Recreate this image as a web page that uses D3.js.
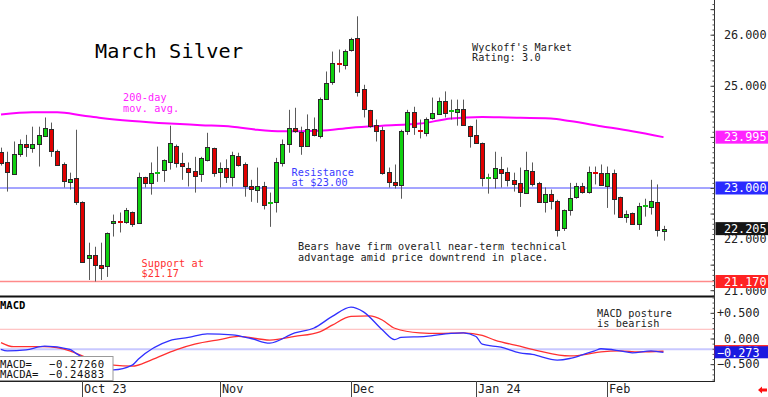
<!DOCTYPE html>
<html>
<head>
<meta charset="utf-8">
<title>March Silver</title>
<script src="https://cdn.jsdelivr.net/npm/d3@7"></script>
<style>
    html, body { margin: 0; padding: 0; background: #ffffff; overflow: hidden; }
    svg { display: block; }
    text { font-family: "DejaVu Sans Mono", monospace; }
</style>
</head>
<body>
<script>
"use strict";

// daily candles, index = trading day (mid Sep 2023 .. mid Feb 2024)
const opens  = [23.71, 23.50, 23.28, 23.67, 23.87, 23.80, 23.85, 24.03, 24.16, 23.73,
                23.46, 23.12, 23.20, 22.73, 21.62, 21.69, 21.50, 21.46, 22.32, 22.36,
                22.32, 22.54, 22.32, 23.22, 23.10, 23.30, 23.34, 23.52, 23.83, 23.48,
                23.40, 23.34, 23.28, 23.56, 23.79, 23.32, 23.40, 23.22, 23.63, 23.46,
                23.03, 22.95, 23.03, 22.70, 22.71, 23.50, 23.87, 24.18, 24.10, 23.83,
                24.16, 24.03, 24.75, 25.06, 25.45, 25.42, 25.69, 25.94, 24.93, 24.53,
                24.24, 24.14, 23.32, 23.12, 23.07, 24.10, 24.48, 24.14, 24.08, 24.36,
                24.46, 24.71, 24.50, 24.50, 24.55, 24.22, 24.04, 23.89, 23.19, 23.20,
                23.38, 23.32, 23.16, 23.09, 22.91, 23.34, 23.10, 22.73, 22.89, 22.75,
                22.20, 22.58, 22.81, 23.03, 22.93, 23.32, 23.30, 23.05, 23.30, 22.83,
                22.44, 22.52, 22.30, 22.65, 22.63, 22.73, 22.16];
const highs  = [23.79, 23.71, 23.91, 23.95, 24.04, 24.20, 24.20, 24.38, 24.28, 23.75,
                23.50, 23.30, 24.14, 22.74, 21.93, 21.85, 21.93, 22.13, 22.48, 22.52,
                22.61, 22.54, 23.30, 23.22, 23.50, 23.81, 23.56, 24.22, 23.85, 23.69,
                23.50, 23.61, 23.61, 24.08, 23.79, 23.50, 23.56, 23.71, 23.69, 23.50,
                23.16, 23.40, 23.12, 22.91, 23.59, 23.95, 24.53, 24.57, 24.20, 24.44,
                24.38, 24.77, 25.28, 25.67, 25.71, 25.71, 25.94, 26.36, 25.02, 24.53,
                24.34, 24.20, 23.40, 23.46, 24.14, 24.53, 24.59, 24.34, 24.38, 24.77,
                24.77, 24.89, 24.73, 24.73, 24.73, 24.22, 24.34, 23.89, 23.28, 23.71,
                23.61, 23.40, 23.30, 23.40, 23.71, 23.50, 23.12, 23.01, 22.97, 22.77,
                22.58, 23.10, 23.10, 23.10, 23.42, 23.42, 23.46, 23.42, 23.36, 22.83,
                22.56, 22.52, 22.71, 22.79, 23.16, 23.07, 22.26];
const lows   = [23.44, 22.93, 23.26, 23.61, 23.61, 23.69, 23.42, 24.01, 23.61, 23.44,
                23.01, 22.97, 22.67, 21.54, 21.20, 21.17, 21.20, 21.26, 22.05, 22.13,
                22.30, 22.24, 22.32, 23.01, 22.87, 23.12, 23.12, 23.36, 23.40, 23.16,
                23.03, 22.91, 23.12, 23.52, 23.22, 23.01, 23.10, 23.03, 23.42, 22.83,
                22.73, 22.71, 22.58, 22.24, 22.52, 23.42, 23.69, 24.08, 23.65, 23.81,
                24.01, 23.97, 24.73, 25.02, 25.26, 25.32, 25.67, 24.79, 24.38, 24.18,
                23.91, 23.26, 23.01, 22.99, 22.79, 24.04, 24.04, 23.97, 24.01, 24.34,
                24.44, 24.38, 24.34, 24.22, 24.22, 23.79, 23.89, 23.03, 22.89, 22.99,
                23.01, 23.03, 22.93, 22.63, 22.91, 23.03, 22.71, 22.52, 22.58, 22.05,
                22.16, 22.46, 22.79, 22.89, 22.89, 23.07, 23.05, 22.61, 22.48, 22.44,
                22.32, 22.28, 22.18, 22.44, 22.48, 22.05, 21.97];
const closes = [23.50, 23.30, 23.67, 23.87, 23.81, 23.87, 24.03, 24.18, 23.73, 23.46,
                23.12, 23.18, 22.73, 21.56, 21.68, 21.50, 21.44, 22.11, 22.36, 22.34,
                22.56, 22.30, 23.22, 23.10, 23.30, 23.32, 23.54, 23.89, 23.50, 23.42,
                23.32, 23.24, 23.59, 23.81, 23.30, 23.40, 23.22, 23.65, 23.46, 23.03,
                22.97, 23.03, 22.65, 22.72, 23.50, 23.87, 24.18, 24.12, 23.83, 24.16,
                24.04, 24.75, 25.06, 25.44, 25.43, 25.69, 25.91, 24.89, 24.53, 24.22,
                24.12, 23.30, 23.12, 23.07, 24.12, 24.48, 24.18, 24.12, 24.36, 24.46,
                24.71, 24.48, 24.52, 24.55, 24.24, 24.03, 23.89, 23.20, 23.21, 23.40,
                23.30, 23.16, 23.09, 22.91, 23.36, 23.09, 22.73, 22.89, 22.75, 22.18,
                22.56, 22.81, 23.03, 22.91, 23.32, 23.30, 23.07, 23.30, 22.79, 22.44,
                22.50, 22.30, 22.65, 22.67, 22.75, 22.18, 22.205];

// 200-day moving average, read at a few trading days
const maIdx  = [0, 5, 9, 13, 16, 21, 27, 32, 37, 41, 45, 51, 56, 61, 67, 72, 77, 81, 88, 91, 96, 101, 106];
const maVals = [24.44, 24.48, 24.48, 24.42, 24.37, 24.31, 24.26, 24.23, 24.20, 24.14, 24.11, 24.12,
                24.18, 24.22, 24.26, 24.36, 24.39, 24.38, 24.36, 24.31, 24.21, 24.11, 23.995];

// MACD (blue) and its average MACDA (red)
const macdIdx  = [0, 1, 4, 7, 11, 12, 14, 16, 18, 21, 22, 27, 30, 33, 37, 40, 43, 47, 50, 53, 56,
                  58, 61, 63, 64, 68, 72, 74, 76, 77, 80, 83, 85, 89, 91, 93, 95, 96, 99, 101, 104, 106];
const macdVals = [-0.21, -0.24, -0.22, -0.15, -0.21, -0.29, -0.44, -0.61, -0.61, -0.52, -0.40,
                  -0.04, 0.02, 0.09, 0.07, 0.00, -0.09, 0.11, 0.20, 0.43, 0.61, 0.52, 0.17, -0.02,
                  0.02, 0.04, 0.10, 0.11, 0.04, -0.11, -0.17, -0.28, -0.31, -0.42, -0.39, -0.32,
                  -0.24, -0.20, -0.24, -0.28, -0.24, -0.2726];
const sigIdx   = [0, 2, 7, 11, 14, 18, 21, 24, 28, 31, 35, 38, 43, 47, 51, 53, 56, 59, 61, 63, 67,
                  70, 74, 77, 79, 83, 86, 91, 93, 96, 99, 102, 106];
const sigVals  = [-0.08, -0.16, -0.16, -0.24, -0.39, -0.52, -0.54, -0.42, -0.22, -0.11, -0.02,
                  0.04, -0.03, 0.04, 0.13, 0.26, 0.43, 0.44, 0.36, 0.20, 0.11, 0.10, 0.11, 0.06,
                  -0.03, -0.15, -0.24, -0.34, -0.32, -0.26, -0.24, -0.26, -0.24883];

const monthIdx    = [13, 35, 56, 76, 97];
const monthLabels = ["Oct 23", "Nov", "Dec", "Jan 24", "Feb"];

const priceTicks = [21, 22, 23, 24, 25, 26];
const macdTicks  = [-0.5, 0, 0.5];

const resistance = 23.00;
const support    = 21.17;
const macdHigh   = 0.18;
const macdLow    = -0.21;

(function() {
    const svgSize = { width: 768, height: 397 };
    const axisX = 714;
    const priceBottom = 296;
    const macdBottom = 381;

    window.addEventListener("load", init);

    function addLines(g, x, y, lines, color, size, spacing) {
        g.append("text")
            .attr("x", x)
            .attr("y", y)
            .attr("fill", color)
            .attr("font-size", size)
            .attr("letter-spacing", spacing)
            .selectAll("tspan")
            .data(lines)
            .enter()
            .append("tspan")
                .attr("x", x)
                .attr("dy", (d, i) => i === 0 ? 0 : 10.6)
                .text(d => d);
    }

    function init() {
        const svg = d3.select("body").append("svg")
            .attr("width", svgSize.width)
            .attr("height", svgSize.height);

        const x = d3.scaleLinear().domain([0, 106]).range([1, 663.5]);
        const yPrice = d3.scaleLinear().domain([21, 26]).range([290.2, 34.7]);
        const yMacd = d3.scaleLinear().domain([-0.5, 0.5]).range([364.15, 312.85]);
        const px = i => Math.round(x(i));

        svg.append("clipPath").attr("id", "priceClip")
            .append("rect").attr("x", 0).attr("y", 0).attr("width", axisX).attr("height", priceBottom);
        svg.append("clipPath").attr("id", "macdClip")
            .append("rect").attr("x", 0).attr("y", priceBottom + 1).attr("width", axisX).attr("height", macdBottom - priceBottom - 1);

        // ---- price panel ----
        const price = svg.append("g").attr("clip-path", "url(#priceClip)");

        price.append("line")
            .attr("x1", 0).attr("x2", axisX)
            .attr("y1", yPrice(resistance)).attr("y2", yPrice(resistance))
            .attr("stroke", "#4a4aff").attr("stroke-width", 1);
        price.append("line")
            .attr("x1", 0).attr("x2", axisX)
            .attr("y1", yPrice(support)).attr("y2", yPrice(support))
            .attr("stroke", "#ff8a8a").attr("stroke-width", 1.4);

        const ma = d3.zip(maIdx, maVals);
        price.append("path")
            .datum(ma)
            .attr("fill", "none")
            .attr("stroke", "#ff00ff")
            .attr("stroke-width", 2)
            .attr("d", d3.line().x(d => x(d[0])).y(d => yPrice(d[1])).curve(d3.curveMonotoneX));

        const candles = d3.range(opens.length).map(i => ({ i: i, o: opens[i], h: highs[i], l: lows[i], c: closes[i] }));

        price.selectAll(".wick")
            .data(candles)
            .enter()
            .append("line")
                .attr("class", "wick")
                .attr("x1", d => px(d.i) + 0.5)
                .attr("x2", d => px(d.i) + 0.5)
                .attr("y1", d => yPrice(d.h))
                .attr("y2", d => yPrice(d.l))
                .attr("stroke", "#5a5a5a")
                .attr("stroke-width", 1);

        price.selectAll(".body")
            .data(candles)
            .enter()
            .append("rect")
                .attr("class", "body")
                .attr("x", d => px(d.i) - 1.5)
                .attr("width", 4)
                .attr("y", d => Math.round(yPrice(Math.max(d.o, d.c))) + 0.5)
                .attr("height", d => Math.max(1, Math.round(Math.abs(yPrice(d.o) - yPrice(d.c)))))
                .attr("fill", d => d.c >= d.o ? "#10d010" : "#e00000")
                .attr("stroke", d => {
                    const tiny = Math.abs(yPrice(d.o) - yPrice(d.c)) < 2;
                    if (tiny) return d.c >= d.o ? "#10c010" : "#e00000";
                    return "#2a2a2a";
                })
                .attr("stroke-width", 1);

        // ---- macd panel ----
        const macd = svg.append("g").attr("clip-path", "url(#macdClip)");

        macd.append("line")
            .attr("x1", 0).attr("x2", axisX)
            .attr("y1", yMacd(macdHigh)).attr("y2", yMacd(macdHigh))
            .attr("stroke", "#ffb4b4").attr("stroke-width", 1);
        macd.append("line")
            .attr("x1", 0).attr("x2", axisX)
            .attr("y1", yMacd(macdLow)).attr("y2", yMacd(macdLow))
            .attr("stroke", "#c8c8ff").attr("stroke-width", 2);

        macd.append("path")
            .datum(d3.zip(sigIdx, sigVals))
            .attr("fill", "none")
            .attr("stroke", "#ff3030")
            .attr("stroke-width", 1.3)
            .attr("d", d3.line().x(d => x(d[0])).y(d => yMacd(d[1])).curve(d3.curveMonotoneX));
        macd.append("path")
            .datum(d3.zip(macdIdx, macdVals))
            .attr("fill", "none")
            .attr("stroke", "#3030ff")
            .attr("stroke-width", 1.3)
            .attr("d", d3.line().x(d => x(d[0])).y(d => yMacd(d[1])).curve(d3.curveMonotoneX));

        macd.append("text")
            .attr("x", 0).attr("y", 308.5)
            .attr("font-family", "'Liberation Sans', Arial, sans-serif")
            .attr("font-weight", "bold")
            .attr("font-size", 10.5)
            .attr("fill", "#000")
            .text("MACD");

        // legend box with last values
        const fmt5 = d3.format(".5f");
        const legend = svg.append("g");
        legend.append("rect")
            .attr("x", -1).attr("y", 356.5).attr("width", 114).attr("height", 24)
            .attr("fill", "#fff").attr("stroke", "#9a9a9a").attr("stroke-width", 1);
        const legendRows = [["MACD=", macdVals[macdVals.length - 1]], ["MACDA=", sigVals[sigVals.length - 1]]];
        legendRows.forEach((r, k) => {
            legend.append("text").attr("x", 0).attr("y", 367.5 + k * 10.8)
                .attr("font-size", 10.6).attr("fill", "#111").text(r[0]);
            legend.append("text").attr("x", 49).attr("y", 367.5 + k * 10.8)
                .attr("font-size", 10.6).attr("letter-spacing", 0.6).attr("fill", "#111").text(fmt5(r[1]));
        });

        // ---- frame ----
        svg.append("line").attr("x1", 0).attr("x2", axisX)
            .attr("y1", priceBottom + 0.5).attr("y2", priceBottom + 0.5)
            .attr("stroke", "#111").attr("stroke-width", 2);
        svg.append("line").attr("x1", 0).attr("x2", axisX)
            .attr("y1", macdBottom + 0.5).attr("y2", macdBottom + 0.5)
            .attr("stroke", "#222").attr("stroke-width", 1);
        svg.append("line").attr("x1", axisX + 0.5).attr("x2", axisX + 0.5)
            .attr("y1", 0).attr("y2", macdBottom + 1)
            .attr("stroke", "#333").attr("stroke-width", 1);

        // ---- price axis ----
        const minorPrice = d3.range(209, 267).map(v => v / 10);
        const pAxisG = svg.append("g").attr("transform", `translate(${axisX + 0.5},0)`);
        pAxisG.append("g")
            .call(d3.axisRight(yPrice).tickValues(minorPrice).tickSize(-2).tickFormat(""))
            .call(g => g.select(".domain").remove())
            .selectAll("line").attr("stroke", "#555");
        const majorPrice = d3.range(42, 54).map(v => v / 2);
        pAxisG.append("g")
            .call(d3.axisRight(yPrice).tickValues(majorPrice).tickSize(-4).tickFormat(""))
            .call(g => g.select(".domain").remove())
            .selectAll("line").attr("stroke", "#444");
        pAxisG.selectAll(".plabel")
            .data(priceTicks)
            .enter()
            .append("text")
                .attr("class", "plabel")
                .attr("x", 52)
                .attr("y", d => yPrice(d) + 4.3)
                .attr("text-anchor", "end")
                .attr("font-size", 11.8)
                .attr("fill", "#222")
                .text(d => d3.format(".3f")(d));

        // value boxes on the price axis
        const fmt3 = d3.format(".3f");
        const priceBoxes = [
            { v: maVals[maVals.length - 1], fill: "#ff22ff" },
            { v: resistance, fill: "#2a2aff" },
            { v: closes[closes.length - 1], fill: "#151515" },
            { v: support, fill: "#ff2222" }
        ];
        const pb = pAxisG.selectAll(".pbox").data(priceBoxes).enter().append("g").attr("class", "pbox");
        pb.append("rect")
            .attr("x", 1).attr("y", d => yPrice(d.v) - 6.5)
            .attr("width", 54).attr("height", 13)
            .attr("fill", d => d.fill);
        pb.append("text")
            .attr("x", 52).attr("y", d => yPrice(d.v) + 4.3)
            .attr("text-anchor", "end")
            .attr("font-size", 11.8)
            .attr("fill", "#fff")
            .text(d => fmt3(d.v));

        // ---- macd axis ----
        const mAxisG = svg.append("g").attr("transform", `translate(${axisX + 0.5},0)`);
        mAxisG.append("g")
            .call(d3.axisRight(yMacd).tickValues(d3.range(-8, 9).map(v => v / 10)).tickSize(-2).tickFormat(""))
            .call(g => g.select(".domain").remove())
            .selectAll("line").attr("stroke", "#555");
        mAxisG.append("g")
            .call(d3.axisRight(yMacd).tickValues(macdTicks).tickSize(-4).tickFormat(""))
            .call(g => g.select(".domain").remove())
            .selectAll("line").attr("stroke", "#444");
        mAxisG.selectAll(".mlabel")
            .data(macdTicks)
            .enter()
            .append("text")
                .attr("class", "mlabel")
                .attr("x", 45)
                .attr("y", d => yMacd(d) + 4.3)
                .attr("text-anchor", "end")
                .attr("font-size", 11.8)
                .attr("fill", "#222")
                .text(d => d > 0 ? "+" + fmt3(d) : fmt3(d));

        const macdBoxes = [
            { v: sigVals[sigVals.length - 1], fill: "#ff2020" },
            { v: macdVals[macdVals.length - 1], fill: "#1a1ae0" }
        ];
        const mb = mAxisG.selectAll(".mbox").data(macdBoxes).enter().append("g").attr("class", "mbox");
        mb.append("rect")
            .attr("x", 0).attr("y", d => yMacd(d.v) - 6.2)
            .attr("width", 55).attr("height", 12)
            .attr("fill", d => d.fill);
        mb.append("text")
            .attr("x", 45).attr("y", d => yMacd(d.v) + 4.2)
            .attr("text-anchor", "end")
            .attr("font-size", 11.8)
            .attr("fill", "#fff")
            .text(d => fmt3(d.v));

        // ---- months ----
        const months = svg.append("g");
        months.selectAll("line")
            .data(monthIdx)
            .enter()
            .append("line")
                .attr("x1", d => px(d) + 0.5).attr("x2", d => px(d) + 0.5)
                .attr("y1", macdBottom).attr("y2", svgSize.height)
                .attr("stroke", "#444");
        months.selectAll("text")
            .data(monthIdx)
            .enter()
            .append("text")
                .attr("x", d => px(d) + 2)
                .attr("y", 393.3)
                .attr("font-size", 11.8)
                .attr("fill", "#222")
                .text((d, i) => monthLabels[i]);

        svg.append("path")
            .attr("d", "M758,390 L762,386.5 L762,388.5 L767,388.5 L767,391.5 L762,391.5 L762,393.5 Z")
            .attr("fill", "#ff1010");

        // ---- notes ----
        const notes = svg.append("g");
        addLines(notes, 95, 58.3, ["March Silver"], "#000", 20.2, 0.2);
        addLines(notes, 123, 101, ["200-day", "mov. avg."], "#ff22ff", 10.2, 0.12);
        addLines(notes, 472, 50.7, ["Wyckoff's Market", "Rating: 3.0"], "#222", 10.2, 0.12);
        addLines(notes, 291.5, 175.7, ["Resistance", "at $23.00"], "#3a3aff", 10.2, 0.12);
        addLines(notes, 141.5, 266.7, ["Support at", "$21.17"], "#ff3030", 10.2, 0.12);
        addLines(notes, 298, 250, ["Bears have firm overall near-term technical",
                                   "advantage amid price downtrend in place."], "#222", 10.2, 0.12);
        addLines(notes, 597, 316.5, ["MACD posture", "is bearish"], "#222", 10.2, 0.12);
    }
})();
</script>
</body>
</html>
